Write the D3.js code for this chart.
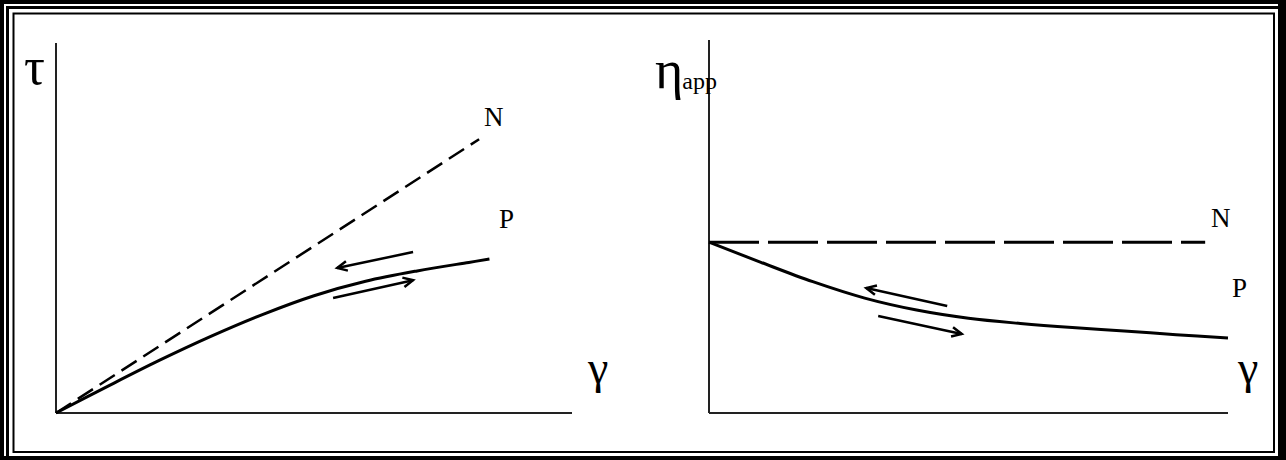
<!DOCTYPE html>
<html>
<head>
<meta charset="utf-8">
<script src="https://cdn.jsdelivr.net/npm/d3@7"></script>
<style>
  html, body { margin: 0; padding: 0; background: #fff; }
  svg { display: block; }
  text { font-family: "Liberation Serif", "DejaVu Serif", serif; fill: #000; }
</style>
</head>
<body>
<svg id="chart" width="1286" height="460"></svg>
<script>
// Shear rate (gamma) sample points
const gammaN = [0, 8.2];
const gammaP = [0, 1, 2, 3, 4, 5, 6, 7, 8, 8.4];
// Shear stress tau: Newtonian (N) and pseudoplastic (P)
const tauN = [0, 7.4];
const tauP = [0, 0.72, 1.42, 2.07, 2.66, 3.17, 3.56, 3.84, 4.07, 4.16];

// Apparent viscosity vs shear rate
const gammaViscN = [0, 9.56];
const etaN = [4.58, 4.58];
const gammaViscP = [0, 1, 2, 3, 4, 5, 6, 7, 8, 9, 10];
const etaP = [4.58, 4.04, 3.52, 3.08, 2.76, 2.54, 2.4, 2.29, 2.2, 2.1, 2.01];

// Direction arrows along the P curves: [gamma0, value0, gamma1, value1]
const arrowsShear = [[6.92, 4.35, 5.45, 3.92], [5.37, 3.11, 6.92, 3.59]];
const arrowsVisc = [[4.59, 2.87, 3.03, 3.35], [3.26, 2.60, 4.87, 2.12]];

const svg = d3.select("#chart");
const W = 1286, H = 460;

// Triple-line frame
svg.append("rect").attr("x", 0).attr("y", 0).attr("width", W).attr("height", H).attr("fill", "#000");
svg.append("rect").attr("x", 4).attr("y", 4).attr("width", 1274).attr("height", 452).attr("fill", "#fff");
svg.append("path")
  .attr("d", "M7.5,458 L7.5,7.5 L1280,7.5")
  .attr("fill", "none").attr("stroke", "#000").attr("stroke-width", 3);
svg.append("rect").attr("x", 9).attr("y", 9).attr("width", 1269).attr("height", 447).attr("fill", "#fff");
svg.append("rect").attr("x", 13.5).attr("y", 13.5).attr("width", 1260.5).attr("height", 438.5)
  .attr("fill", "none").attr("stroke", "#000").attr("stroke-width", 2);
svg.append("rect").attr("x", 1278).attr("y", 4).attr("width", 8).attr("height", 456).attr("fill", "#000");
svg.append("rect").attr("x", 4).attr("y", 456).attr("width", 1282).attr("height", 4).attr("fill", "#000");

function panel(opts) {
  const x = d3.scaleLinear().domain([0, 10]).range(opts.xr);
  const y = d3.scaleLinear().domain([0, 10]).range(opts.yr);
  const g = svg.append("g");

  // Axes: plain lines without ticks
  g.append("line").attr("x1", x(0)).attr("x2", x(0)).attr("y1", opts.yTop).attr("y2", y(0))
    .attr("stroke", "#222").attr("stroke-width", 2);
  g.append("line").attr("x1", x(0)).attr("x2", opts.xEnd).attr("y1", y(0)).attr("y2", y(0))
    .attr("stroke", "#222").attr("stroke-width", 2);

  const line = d3.line().x(d => x(d[0])).y(d => y(d[1]));
  const curve = d3.line().x(d => x(d[0])).y(d => y(d[1])).curve(d3.curveCatmullRom);

  g.append("path").datum(d3.zip(opts.nx, opts.ny))
    .attr("d", line).attr("fill", "none").attr("stroke", "#000")
    .attr("stroke-width", opts.dashWidth).attr("stroke-dasharray", opts.dash);
  g.append("path").datum(d3.zip(opts.px, opts.py))
    .attr("d", curve).attr("fill", "none").attr("stroke", "#000").attr("stroke-width", 3);

  opts.arrows.forEach(a => {
    const x0 = x(a[0]), y0 = y(a[1]), x1 = x(a[2]), y1 = y(a[3]);
    const ang = Math.atan2(y1 - y0, x1 - x0);
    const L = 11, spread = 0.45;
    g.append("line").attr("x1", x0).attr("y1", y0).attr("x2", x1).attr("y2", y1)
      .attr("stroke", "#000").attr("stroke-width", 2.5);
    const p1 = [x1 - L * Math.cos(ang - spread), y1 - L * Math.sin(ang - spread)];
    const p2 = [x1 - L * Math.cos(ang + spread), y1 - L * Math.sin(ang + spread)];
    g.append("path").attr("d", `M${p1}L${x1},${y1}L${p2}`)
      .attr("fill", "none").attr("stroke", "#000").attr("stroke-width", 2.5)
      .attr("stroke-linejoin", "miter");
  });
  return { g, x, y };
}

const left = panel({
  xr: [56, 572], yr: [413, 43], yTop: 43, xEnd: 572,
  nx: gammaN, ny: tauN, px: gammaP, py: tauP,
  dash: "18,8", dashWidth: 2.5, arrows: arrowsShear
});
const right = panel({
  xr: [709, 1228], yr: [413, 40], yTop: 40, xEnd: 1228,
  nx: gammaViscN, ny: etaN, px: gammaViscP, py: etaP,
  dash: "50,9", dashWidth: 3, arrows: arrowsVisc
});

// Axis titles and curve labels
svg.append("text").attr("x", 24).attr("y", 84).attr("font-size", 52).text("τ");
svg.append("text").attr("x", 588).attr("y", 383).attr("font-size", 46).text("γ");
svg.append("text").attr("x", 1238).attr("y", 383).attr("font-size", 46).text("γ");
const eta = svg.append("text").attr("x", 655).attr("y", 88);
eta.append("tspan").attr("font-size", 54).text("η");
eta.append("tspan").attr("font-size", 24).attr("dx", -1).attr("dy", 1).text("app");

svg.append("text").attr("x", 484).attr("y", 126).attr("font-size", 27).text("N");
svg.append("text").attr("x", 499).attr("y", 228).attr("font-size", 27).text("P");
svg.append("text").attr("x", 1211).attr("y", 227).attr("font-size", 27).text("N");
svg.append("text").attr("x", 1232).attr("y", 297).attr("font-size", 27).text("P");
</script>
</body>
</html>
